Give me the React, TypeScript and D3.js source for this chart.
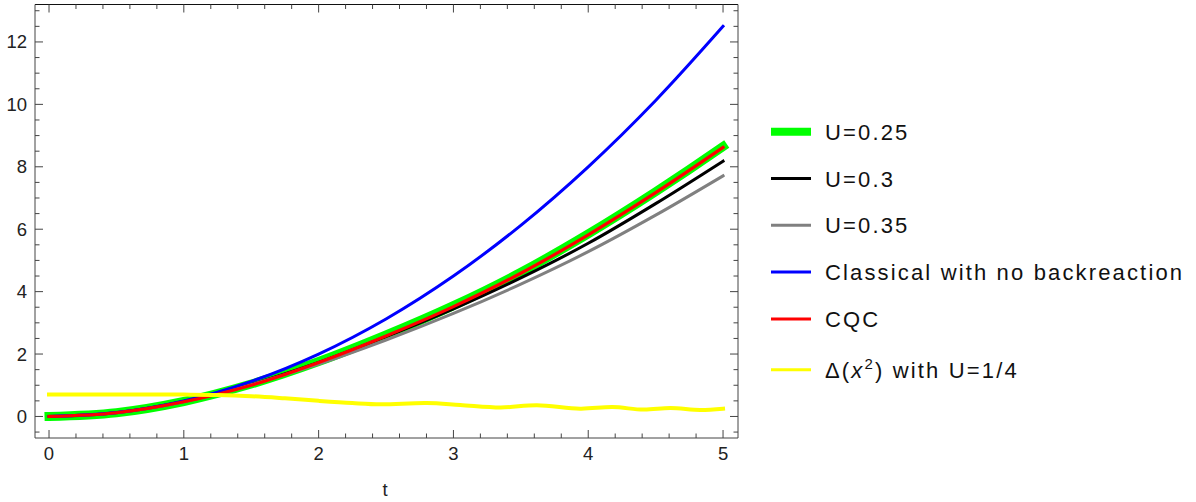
import React from "react";
import * as d3 from "d3";

const tGrid = [0, 0.5, 1, 1.5, 2, 2.5, 3, 3.5, 4, 4.5, 5];
const u025 = [0, 0.12, 0.48, 1.04, 1.76, 2.61, 3.55, 4.62, 5.85, 7.2, 8.65];
const u030 = [0, 0.12, 0.48, 1.03, 1.73, 2.56, 3.45, 4.44, 5.55, 6.82, 8.18];
const u035 = [0, 0.12, 0.47, 1.02, 1.68, 2.45, 3.3, 4.24, 5.28, 6.45, 7.71];
const classical = [0, 0.125, 0.5, 1.125, 2, 3.125, 4.5, 6.125, 8, 10.125, 12.5];
const cqc = [0, 0.12, 0.47, 1.0, 1.73, 2.58, 3.52, 4.59, 5.82, 7.17, 8.62];
const deltaT = [0, 0.5, 1, 1.25, 1.5, 1.75, 2, 2.25, 2.46, 2.8, 3.05, 3.35, 3.62, 3.94, 4.18, 4.41, 4.61, 4.83, 5];
const deltaV = [0.7, 0.7, 0.7, 0.69, 0.65, 0.58, 0.5, 0.43, 0.39, 0.43, 0.37, 0.29, 0.36, 0.25, 0.3, 0.22, 0.27, 0.21, 0.25];

const xMajor = [0, 1, 2, 3, 4, 5];
const yMajor = [0, 2, 4, 6, 8, 10, 12];
const legendLabels = ["U=0.25", "U=0.3", "U=0.35", "Classical with no backreaction", "CQC", "DELTA"];

const W = 1196, H = 502;
const x = d3.scaleLinear().domain([-0.104, 5.111]).range([35, 738]);
const y = d3.scaleLinear().domain([-0.69, 13.2]).range([438, 4.5]);

type S = { name: string; t: number[]; v: number[]; color: string; w: number; lw: number };
const series: S[] = [
  { name: legendLabels[0], t: tGrid, v: u025, color: "#00ff00", w: 9, lw: 8 },
  { name: legendLabels[1], t: tGrid, v: u030, color: "#000000", w: 3, lw: 3 },
  { name: legendLabels[2], t: tGrid, v: u035, color: "#808080", w: 3, lw: 3 },
  { name: legendLabels[3], t: tGrid, v: classical, color: "#0000ff", w: 3, lw: 3 },
  { name: legendLabels[4], t: tGrid, v: cqc, color: "#ff0000", w: 3.2, lw: 3 },
  { name: legendLabels[5], t: deltaT, v: deltaV, color: "#ffff00", w: 4, lw: 3 },
];

export default function App() {
  const line = d3
    .line<[number, number]>()
    .x((d) => x(d[0]))
    .y((d) => y(d[1]))
    .curve(d3.curveCatmullRom.alpha(0.5));

  const [x0, x1] = x.range();
  const [yb, yt] = y.range();
  const xMinor = d3.range(-0.2, 5.21, 0.2).map((v) => Math.round(v * 10) / 10).filter((v) => v >= -0.104 && v <= 5.111 && !xMajor.includes(v));
  const yMinor = d3.range(-0.5, 13.21, 0.5).filter((v) => v >= -0.69 && v <= 13.2 && !yMajor.includes(v));
  const font = "'Liberation Sans', Arial, sans-serif";
  const frame = "#444";
  const major = 8, minor = 4.5;

  return (
    <svg width={W} height={H} style={{ position: "absolute", left: 0, top: 0, background: "#fff" }}>
      <defs>
        <clipPath id="plot">
          <rect x={x0} y={yt} width={x1 - x0} height={yb - yt} />
        </clipPath>
      </defs>
      <rect x={0} y={0} width={W} height={H} fill="#fff" />
      <g clipPath="url(#plot)">
        {series.map((s) => (
          <path
            key={s.name}
            d={line(s.t.map((t, i) => [t, s.v[i]] as [number, number])) || ""}
            fill="none"
            stroke={s.color}
            strokeWidth={s.w}
            strokeLinecap="square"
            strokeLinejoin="round"
          />
        ))}
      </g>
      {/* frame */}
      <g stroke={frame} strokeWidth={1}>
        <line x1={x0} x2={x1} y1={yt} y2={yt} stroke="#111" />
        <line x1={x0} x2={x1} y1={yb} y2={yb} />
        <line x1={x0} x2={x0} y1={yt} y2={yb} />
        <line x1={x1} x2={x1} y1={yt} y2={yb} />
        {xMajor.map((v) => (
          <g key={"xm" + v}>
            <line x1={x(v)} x2={x(v)} y1={yb} y2={yb - major} />
            <line x1={x(v)} x2={x(v)} y1={yt} y2={yt + major} />
          </g>
        ))}
        {xMinor.map((v) => (
          <g key={"xn" + v}>
            <line x1={x(v)} x2={x(v)} y1={yb} y2={yb - minor} />
            <line x1={x(v)} x2={x(v)} y1={yt} y2={yt + minor} />
          </g>
        ))}
        {yMajor.map((v) => (
          <g key={"ym" + v}>
            <line x1={x0} x2={x0 + major} y1={y(v)} y2={y(v)} />
            <line x1={x1} x2={x1 - major} y1={y(v)} y2={y(v)} />
          </g>
        ))}
        {yMinor.map((v) => (
          <g key={"yn" + v}>
            <line x1={x0} x2={x0 + minor} y1={y(v)} y2={y(v)} />
            <line x1={x1} x2={x1 - minor} y1={y(v)} y2={y(v)} />
          </g>
        ))}
      </g>
      <g fontFamily={font} fontSize={18.5} fill="#222">
        {xMajor.map((v) => (
          <text key={"xl" + v} x={x(v)} y={460} textAnchor="middle">
            {v}
          </text>
        ))}
        {yMajor.map((v) => (
          <text key={"yl" + v} x={27} y={y(v) + 6.5} textAnchor="end">
            {v}
          </text>
        ))}
        <text x={385} y={496} textAnchor="middle">t</text>
      </g>
      {/* legend */}
      <g fontFamily={font} fontSize={22} fill="#111" style={{ letterSpacing: "2.15px" }}>
        {series.map((s, i) => {
          const ly = 131.7 + i * 46.8 + (i === 5 ? 4 : 0);
          return (
            <g key={"lg" + s.name}>
              <line x1={771} x2={811} y1={ly} y2={ly} stroke={s.color} strokeWidth={s.lw} />
              <text x={825} y={ly + 8}>
                {s.name === "DELTA" ? (
                  <>
                    {"Δ("}
                    <tspan fontStyle="italic">x</tspan>
                    <tspan dy={-9} fontSize={15}>2</tspan>
                    <tspan dy={9}>{") with U=1/4"}</tspan>
                  </>
                ) : (
                  s.name
                )}
              </text>
            </g>
          );
        })}
      </g>
    </svg>
  );
}
